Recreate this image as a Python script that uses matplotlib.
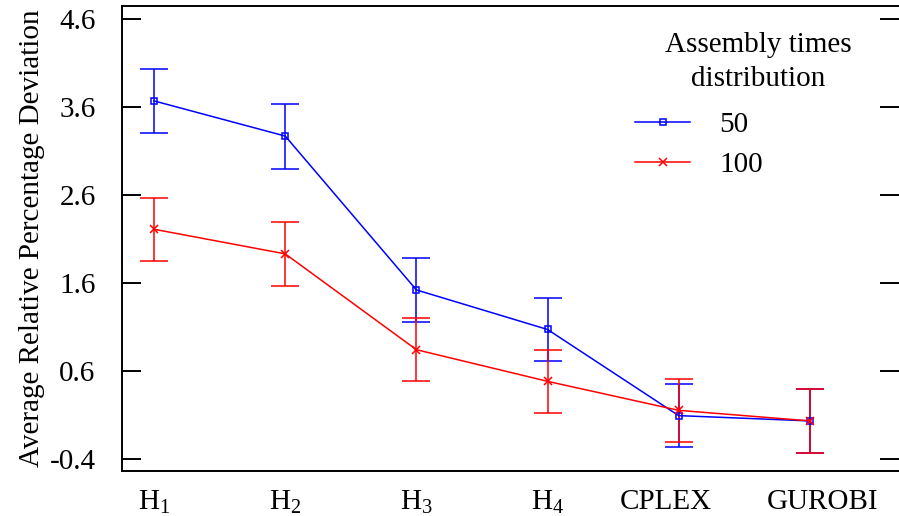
import matplotlib.pyplot as plt
from matplotlib.lines import Line2D
import numpy as np

plt.rcParams['font.family'] = 'Liberation Serif'
plt.rcParams['mathtext.fontset'] = 'custom'
plt.rcParams['mathtext.rm'] = 'Liberation Serif'
plt.rcParams['mathtext.it'] = 'Liberation Serif:italic'

methods = ['H$_1$', 'H$_2$', 'H$_3$', 'H$_4$', 'CPLEX', 'GUROBI']

# average relative percentage deviation and error (half width)
arpd_50 = [3.67, 3.27, 1.52, 1.07, 0.09, 0.03]
err_50 = [0.36, 0.37, 0.36, 0.36, 0.36, 0.36]
arpd_100 = [2.21, 1.93, 0.84, 0.48, 0.15, 0.03]
err_100 = [0.36, 0.36, 0.36, 0.36, 0.36, 0.36]

x = np.arange(len(methods))

fig = plt.figure(figsize=(8.99, 5.16), dpi=100)
ax = fig.add_axes([0.1357, 0.0872, 0.8643, 0.9012])

ax.errorbar(x, arpd_50, yerr=err_50, color='blue', linewidth=1.1,
            marker='s', markersize=5, markerfacecolor='none', markeredgewidth=1.1,
            capsize=10, capthick=1.3, elinewidth=1.1)
ax.errorbar(x, arpd_100, yerr=err_100, color='red', linewidth=1.1,
            marker='x', markersize=6, markeredgewidth=1.1,
            capsize=10, capthick=1.3, elinewidth=1.1)

ax.set_xlim(-0.245, 5.68)
ax.set_ylim(-0.54, 4.75)
ax.set_yticks([-0.4, 0.6, 1.6, 2.6, 3.6, 4.6])
ax.set_yticklabels(['-0.4', '0.6', '1.6', '2.6', '3.6', '4.6'])
# the last two labels sit a little off their points in the original
ax.set_xticks(x + np.array([0, 0, 0, 0, -0.1, 0.1]))
ax.set_xticklabels(methods)

ax.tick_params(axis='y', direction='in', length=13.5, width=1.4, labelsize=21,
               pad=19, left=True, right=True)
ax.tick_params(axis='x', length=0, labelsize=21, pad=13)
ax.spines['right'].set_visible(False)
for s in ['left', 'top', 'bottom']:
    ax.spines[s].set_linewidth(1.4)

ax.set_ylabel('Average Relative Percentage Deviation', fontsize=21, labelpad=3)

# legend title as separate text so entries can sit left of it
ax.text(0.8185, 0.88, 'Assembly times\ndistribution', transform=ax.transAxes,
        ha='center', va='center', fontsize=21, multialignment='center',
        linespacing=1.4)
handles = [Line2D([], [], color='blue', linewidth=1.1, marker='s', markersize=5,
                  markerfacecolor='none', markeredgewidth=1.1),
           Line2D([], [], color='red', linewidth=1.1, marker='x', markersize=6,
                  markeredgewidth=1.1)]
ax.legend(handles, ['50', '100'], frameon=False, fontsize=21, loc='upper left',
          bbox_to_anchor=(0.660, 0.772), borderaxespad=0, borderpad=0,
          handlelength=1.9, handletextpad=1.0, labelspacing=0.45)

fig.savefig('out.png', dpi=100)
